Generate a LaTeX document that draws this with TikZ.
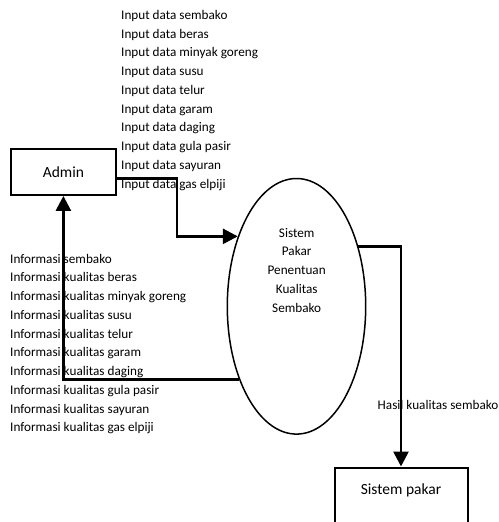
\documentclass[tikz,border=0pt]{standalone}
\usepackage{fontspec}
\setmainfont{Carlito}
\usetikzlibrary{positioning, arrows.meta, shapes.geometric}

\tikzset{
  box/.style={draw, line width=2pt, inner sep=0pt},
  proc/.style={draw, ellipse, line width=1.5pt, inner sep=0pt},
  flow/.style={line width=2.7pt, -{Triangle[length=15pt,width=15pt]}},
  lbl/.style={font=\fontsize{13.2}{16}\selectfont, inner sep=0pt},
  big/.style={font=\fontsize{15.5}{18}\selectfont, inner sep=0pt}
}

\begin{document}
\begin{tikzpicture}[x=1pt, y=-1pt]
\useasboundingbox (0,0) rectangle (498,522);
\clip (0,0) rectangle (498,522);

\node[box, big, minimum width=105, minimum height=45.5] (admin) at (63.4,172.2) {Admin};
\node[proc, minimum width=138.4, minimum height=255.6] (proses) at (296.5,306.3) {};
\node[box, anchor=north west, minimum width=133, minimum height=90] (pakar) at (333.5,466.5) {};

\foreach \t [count=\i from 0] in {Sistem, Pakar, Penentuan, Kualitas, Sembako}
  \node[lbl, anchor=base] (ket\i) at (296.7, {237+18.8*\i}) {\t};
\node[big, anchor=base] (pakarteks) at (401, 494.3) {Sistem pakar};

\foreach \t [count=\i from 0] in {sembako, beras, minyak goreng, susu, telur, garam, daging, gula pasir, sayuran, gas elpiji}
  \node[lbl, anchor=base west] (in\i) at (121, {19.3+18.78*\i}) {Input data \t};

\foreach \t [count=\i from 0] in {sembako, kualitas beras, kualitas minyak goreng, kualitas susu, kualitas telur, kualitas garam, kualitas daging, kualitas gula pasir, kualitas sayuran, kualitas gas elpiji}
  \node[lbl, anchor=base west] (info\i) at (10, {263+18.75*\i}) {Informasi \t};

\node[lbl, anchor=base west] (hasil) at (377.5, 409.3) {Hasil kualitas sembako};

\draw[flow] ([yshift=-6.5pt]admin.east) -- ++(60,0) |- (proses.130);
\draw[flow] (proses.232) -| (admin.south);
\draw[flow] (proses.44) -| (pakar.north);
\end{tikzpicture}
\end{document}
